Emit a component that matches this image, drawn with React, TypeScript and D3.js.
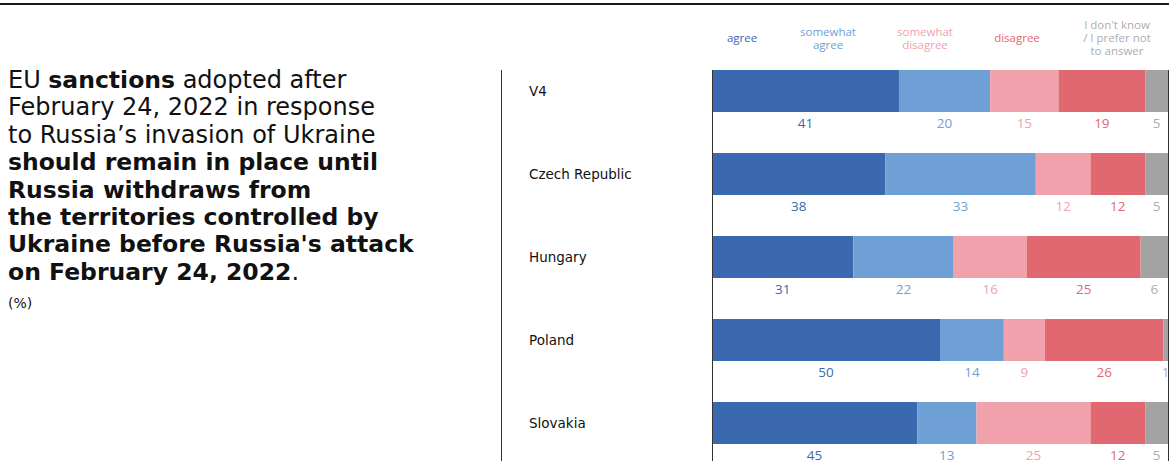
import React from "react";
import * as d3 from "d3";

const countries = ["V4", "Czech Republic", "Hungary", "Poland", "Slovakia"];
const seriesKeys = ["agree", "somewhatAgree", "somewhatDisagree", "disagree", "dontKnow"];
const legendLabels = [
  ["agree"],
  ["somewhat", "agree"],
  ["somewhat", "disagree"],
  ["disagree"],
  ["I don't know", "/ I prefer not", "to answer"],
];
const agree = [41, 38, 31, 50, 45];
const somewhatAgree = [20, 33, 22, 14, 13];
const somewhatDisagree = [15, 12, 16, 9, 25];
const disagree = [19, 12, 25, 26, 12];
const dontKnow = [5, 5, 6, 1, 5];

const seriesValues = [agree, somewhatAgree, somewhatDisagree, disagree, dontKnow];
const barColors = ["#3a69b0", "#6fa0d5", "#f1a1ab", "#e16870", "#a3a3a3"];
const labelColors = ["#3a69b0", "#6fa0d5", "#f1a1ab", "#e16870", "#adadad"];
const legendX = [742, 828, 925, 1017, 1117];

const W = 1171;
const H = 461;
const FONT = "'Open Sans', sans-serif";
const TITLE_FONT = "'DejaVu Sans', sans-serif";

export default function App() {
  const x = d3.scaleLinear().domain([0, 100]).range([712, 1168]);
  const y = d3
    .scaleBand<string>()
    .domain(countries)
    .range([70, 444])
    .paddingInner(41 / 83)
    .paddingOuter(0);

  const rows = countries.map((c, i) => {
    const obj: any = { country: c };
    seriesKeys.forEach((k, j) => (obj[k] = seriesValues[j][i]));
    return obj;
  });
  const stacked = d3.stack<any>().keys(seriesKeys)(rows);

  const titleLines: { t: string; b: boolean }[][] = [
    [{ t: "EU ", b: false }, { t: "sanctions", b: true }, { t: " adopted after", b: false }],
    [{ t: "February 24, 2022 in response", b: false }],
    [{ t: "to Russia\u2019s invasion of Ukraine", b: false }],
    [{ t: "should remain in place until", b: true }],
    [{ t: "Russia withdraws from", b: true }],
    [{ t: "the territories controlled by", b: true }],
    [{ t: "Ukraine before Russia's attack", b: true }],
    [{ t: "on February 24, 2022", b: true }, { t: ".", b: false }],
  ];

  return (
    <svg
      width={W}
      height={H}
      style={{ position: "absolute", left: 0, top: 0, background: "#fff" }}
      fontFamily={FONT}
    >
      <rect x={0} y={0} width={W} height={H} fill="#fff" />
      <line x1={0} x2={1169} y1={4} y2={4} stroke="#1a1a1a" strokeWidth={2} />

      {/* title */}
      <g fill="#111" fontFamily={TITLE_FONT}>
        {titleLines.map((line, i) => (
          <text key={i} x={8} y={88 + i * 27.4}>
            {line.map((s, j) => (
              <tspan key={j} fontWeight={s.b ? 700 : 400} fontSize={s.b ? 23.5 : 24}>
                {s.t}
              </tspan>
            ))}
          </text>
        ))}
        <text x={8} y={308} fontSize={14}>
          (%)
        </text>
      </g>

      {/* divider */}
      <line x1={501.5} x2={501.5} y1={70} y2={H} stroke="#333" strokeWidth={1} />

      {/* legend */}
      {legendLabels.map((lines, i) => {
        const lh = 13;
        const cy = 38;
        const start = cy - ((lines.length - 1) * lh) / 2;
        return (
          <text
            key={i}
            x={legendX[i]}
            textAnchor="middle"
            fontSize={11.5}
            fill={labelColors[i]}
          >
            {lines.map((l, j) => (
              <tspan key={j} x={legendX[i]} y={start + j * lh} dy="0.35em">
                {l}
              </tspan>
            ))}
          </text>
        );
      })}

      {/* country labels */}
      {countries.map((c) => (
        <text
          key={c}
          x={529}
          y={(y(c) as number) + y.bandwidth() / 2}
          dy="0.35em"
          fontSize={13.5}
          fontFamily={TITLE_FONT}
          fill="#111"
        >
          {c}
        </text>
      ))}

      {/* bars */}
      {stacked.map((s, si) => (
        <g key={s.key}>
          {s.map((d, i) => (
            <rect
              key={i}
              x={x(d[0])}
              y={y(countries[i])}
              width={x(d[1]) - x(d[0])}
              height={y.bandwidth()}
              fill={barColors[si]}
            />
          ))}
          {s.map((d, i) => (
            <text
              key={"t" + i}
              x={(x(d[0]) + x(d[1])) / 2}
              y={(y(countries[i]) as number) + y.bandwidth() + 11}
              dy="0.35em"
              textAnchor="middle"
              fontSize={13.5}
              fill={labelColors[si]}
            >
              {d[1] - d[0]}
            </text>
          ))}
        </g>
      ))}

      {/* axis lines */}
      <line x1={712.5} x2={712.5} y1={70} y2={H} stroke="#333" strokeWidth={1} />
      <line x1={1168.5} x2={1168.5} y1={70} y2={H} stroke="#333" strokeWidth={1} />
    </svg>
  );
}
